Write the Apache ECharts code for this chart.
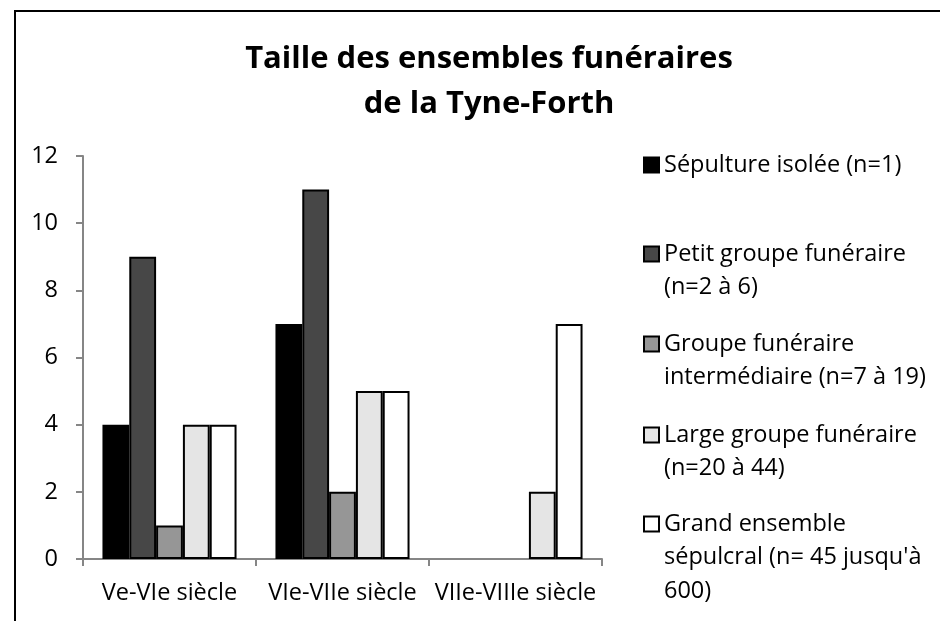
<!DOCTYPE html>
<html>
<head>
<meta charset="utf-8">
<script src="https://cdn.jsdelivr.net/npm/echarts@6/dist/echarts.min.js"></script>
<style>
  html, body { margin: 0; padding: 0; background: #fff; }
  #chart { width: 940px; height: 621px; }
</style>
</head>
<body>
<div id="chart"></div>
<script>
// categories + series values
const categories = ["Ve-VIe siècle", "VIe-VIIe siècle", "VIIe-VIIIe siècle"];
const seriesNames = [
  "Sépulture isolée (n=1)",
  "Petit groupe funéraire\n(n=2 à 6)",
  "Groupe funéraire\nintermédiaire (n=7 à 19)",
  "Large groupe funéraire\n(n=20 à 44)",
  "Grand ensemble\nsépulcral (n= 45 jusqu'à\n600)"
];
const isolee = [4, 7, 0];
const petit = [9, 11, 0];
const intermediaire = [1, 2, 0];
const large = [4, 5, 2];
const grand = [4, 5, 7];
const yTicks = [0, 2, 4, 6, 8, 10, 12];

const seriesValues = [isolee, petit, intermediaire, large, grand];
const colors = ["#000000", "#474747", "#969696", "#e5e5e5", "#ffffff"];

const FONT = '"Open Sans", sans-serif';
const axisGray = "#868686";

const myChart = echarts.init(document.getElementById("chart"));

// one legend per entry; blank lines above the name keep the icon on the first line
const iconCenters = [165, 254, 344, 435, 524];
const LH = 33.5;
const legends = seriesNames.map((name, i) => {
  const n = name.split("\n").length;
  const H = (2 * n - 1) * LH;
  return {
    data: [{ name: name, icon: "rect" }],
    orient: "vertical",
    left: 643,
    top: iconCenters[i] - H / 2,
    padding: 0,
    itemWidth: 15,
    itemHeight: 15,
    itemGap: 0,
    selectedMode: false,
    formatter: nm => "\n".repeat(n - 1) + nm,
    textStyle: {
      fontFamily: FONT,
      fontSize: 23.5,
      color: "#000",
      lineHeight: LH
    }
  };
});

const option = {
  animation: false,
  backgroundColor: "#fff",
  textStyle: { fontFamily: FONT },
  title: {
    text: "Taille des ensembles funéraires\nde la Tyne-Forth",
    left: 484,
    top: 32,
    textAlign: "center",
    textStyle: {
      fontFamily: FONT,
      fontSize: 31,
      fontWeight: "bold",
      color: "#000",
      lineHeight: 45
    }
  },
  graphic: [{
    type: "rect",
    shape: { x: 15, y: 11, width: 1200, height: 1200 },
    style: { fill: "none", stroke: "#000", lineWidth: 2 },
    silent: true
  }],
  legend: legends,
  grid: { left: 83, right: 338, top: 156, bottom: 62 },
  xAxis: {
    type: "category",
    data: categories,
    axisLine: { lineStyle: { color: axisGray, width: 2 } },
    axisTick: { show: true, length: 7, lineStyle: { color: axisGray, width: 2 } },
    axisLabel: { color: "#000", fontSize: 23.5, margin: 22, interval: 0, fontFamily: FONT }
  },
  yAxis: {
    type: "value",
    min: 0,
    max: 12,
    interval: 2,
    splitLine: { show: false },
    axisLine: { show: true, lineStyle: { color: axisGray, width: 2 } },
    axisTick: { show: true, length: 7, lineStyle: { color: axisGray, width: 2 } },
    axisLabel: {
      color: "#000", fontSize: 23.5, margin: 25, fontFamily: FONT,
      formatter: v => (yTicks.indexOf(v) >= 0 ? String(v) : "")
    }
  },
  series: seriesNames.map((name, i) => ({
    type: "bar",
    name: name,
    barGap: "0%",
    barCategoryGap: "22.5%",
    // zero-height bars would otherwise leave a black stroke on the axis
    data: seriesValues[i].map(v => v === 0 ? { value: 0, itemStyle: { borderWidth: 0 } } : v),
    itemStyle: { color: colors[i], borderColor: "#000", borderWidth: 2 }
  }))
};

myChart.setOption(option);
</script>
</body>
</html>
